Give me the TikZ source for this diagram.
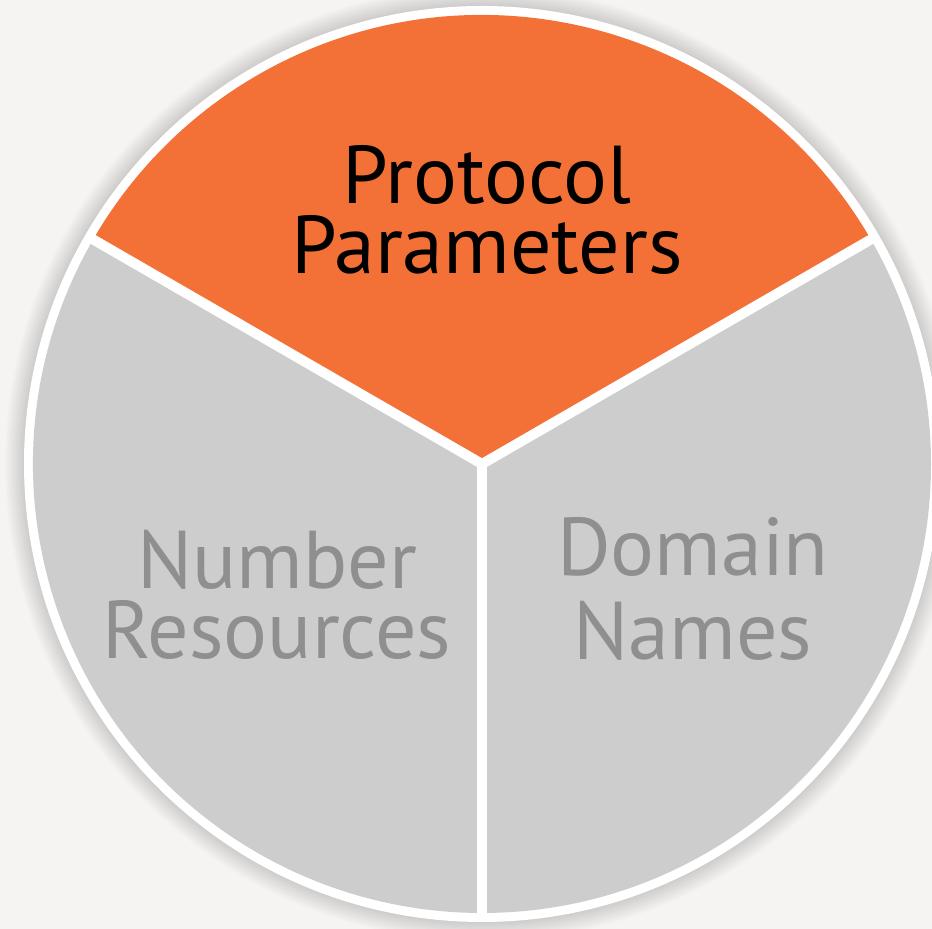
\documentclass[tikz,border=0pt]{standalone}
\usepackage{fontspec}
\setmainfont{PT Sans}
\usetikzlibrary{calc}

\definecolor{pageback}{HTML}{F5F4F2}
\definecolor{sliceorange}{HTML}{F37137}
\definecolor{slicegray}{HTML}{CDCDCD}
\definecolor{labelgray}{HTML}{8F8F8F}

\begin{document}
\begin{tikzpicture}[
    x=0.5pt, y=0.5pt, % one unit = one pixel of the picture
    slice/.style={draw=none}, % Style for the pie slices
    divider/.style={white, line width=5pt}, % White lines between slices
    label/.style={font=\fontsize{41}{35}\selectfont, align=center, inner sep=0pt} % Slice texts
]

    % Background and size
    \fill[pageback] (0,0) rectangle (932,929);
    \useasboundingbox (0,0) rectangle (932,929);

    % Centre of the pie
    \coordinate (c) at (482, 465);

    % Soft shadow round the circle
    \foreach \i in {1,...,14} {
        \fill[black, opacity=0.012] (c) circle ({456+1.5*\i});
    }

    % White disc under the slices
    \fill[white] (c) circle (458);

    % Slices
    \fill[slice, sliceorange] (c) -- ($(c)+(30:449)$) arc (30:150:449) -- cycle;
    \fill[slice, slicegray] (c) -- ($(c)+(150:449)$) arc (150:270:449) -- cycle;
    \fill[slice, slicegray] (c) -- ($(c)+(270:449)$) arc (270:390:449) -- cycle;

    % Dividers
    \draw[divider] (c) -- ($(c)+(30:452)$);
    \draw[divider] (c) -- ($(c)+(150:452)$);
    \draw[divider] (c) -- ($(c)+(270:452)$);

    % Labels
    \node[label, text=black] (protocol) at (487, 719) {Protocol\\Parameters};
    \node[label, text=labelgray] (number) at (277, 334) {Number\\Resources};
    \node[label, text=labelgray, font=\fontsize{41}{42}\selectfont] (domain) at (693, 340) {Domain\\Names};

\end{tikzpicture}
\end{document}
